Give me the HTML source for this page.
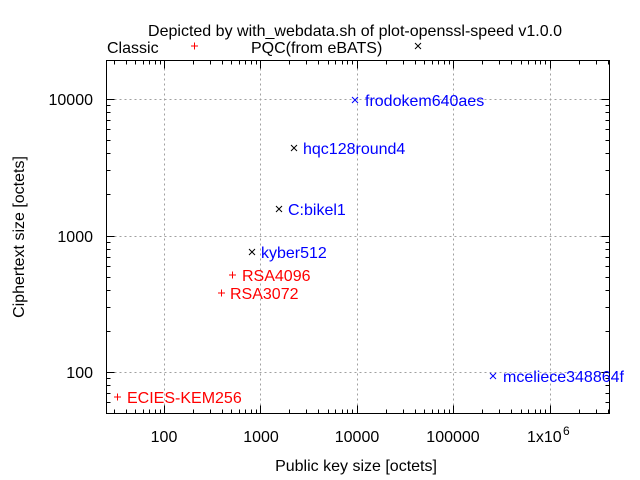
<!DOCTYPE html>
<html><head><meta charset="utf-8"><style>
html,body{margin:0;padding:0;background:#fff;}
svg{display:block;font-family:"Liberation Sans",sans-serif;}
</style></head><body>
<svg id="s" width="640" height="480" viewBox="0 0 640 480" xmlns="http://www.w3.org/2000/svg">
<rect width="640" height="480" fill="#fff"/>
<g id="grid" stroke="#a0a0a0" stroke-width="1" stroke-dasharray="2,3"></g>
<g id="ticks" stroke="#000" stroke-width="1"></g>
<rect x="106.5" y="60.5" width="503" height="353" fill="none" stroke="#000" stroke-width="1"/>
<g font-size="16" fill="#000">
<text x="355" y="36" text-anchor="middle" textLength="414" lengthAdjust="spacingAndGlyphs">Depicted by with_webdata.sh of plot-openssl-speed v1.0.0</text>
<text x="107" y="53">Classic</text>
<text x="251" y="53">PQC(from eBATS)</text>
<text x="93" y="105" text-anchor="end">10000</text>
<text x="93" y="242" text-anchor="end">1000</text>
<text x="93" y="378" text-anchor="end">100</text>
<text x="164" y="442" text-anchor="middle">100</text>
<text x="261" y="442" text-anchor="middle">1000</text>
<text x="357" y="442" text-anchor="middle">10000</text>
<text x="453" y="442" text-anchor="middle">100000</text>
<text x="527" y="442">1x10</text><text x="563" y="435" font-size="12">6</text>
<text x="356" y="471" text-anchor="middle">Public key size [octets]</text>
<text transform="translate(24,237) rotate(-90)" text-anchor="middle">Ciphertext size [octets]</text>
</g>
<g stroke="#f00" stroke-width="1">
<path d="M191,46h7M194.5,42.5v7"/>
<path d="M114,397h7M117.5,393.5v7"/>
<path d="M218,293h7M221.5,289.5v7"/>
<path d="M229,275h7M232.5,271.5v7"/>
</g>
<g stroke="#000" stroke-width="1">
<path d="M415,43l6,6M421,43l-6,6"/>
<path d="M249,249l6,6M255,249l-6,6"/>
<path d="M276,206l6,6M282,206l-6,6"/>
<path d="M291,145l6,6M297,145l-6,6"/>
</g>
<g stroke="#00f" stroke-width="1">
<path d="M352,97l6,6M358,97l-6,6"/>
<path d="M490,373l6,6M496,373l-6,6"/>
</g>
<g font-size="16">
<text x="127" y="403" fill="#f00">ECIES-KEM256</text>
<text x="230" y="299" fill="#f00">RSA3072</text>
<text x="242" y="281" fill="#f00">RSA4096</text>
<text x="261" y="258" fill="#00f">kyber512</text>
<text x="288" y="215" fill="#00f">C:bikel1</text>
<text x="303" y="154" fill="#00f">hqc128round4</text>
<text x="365" y="106" fill="#00f">frodokem640aes</text>
<text x="503" y="382" fill="#00f">mceliece348864f</text>
</g>
</svg>
<script>
(function(){
var L=106.5,R=609.5,T=60.5,B=413.5,x0=164,dx=96.4,y0=372,dy=136.5;
var g='',t='';
for(var k=-1;k<=5;k++){
 for(var m=1;m<10;m++){
  var x=x0+(k+Math.log10(m))*dx; x=Math.round(x)+0.5;
  if(x<=L||x>=R)continue;
  var len=(m==1)?8:4;
  t+='M'+x+','+B+'v-'+len+'M'+x+','+T+'v'+len;
  if(m==1) g+='M'+x+','+(T+8)+'V'+(B-8);
 }
}
for(var k=-1;k<=3;k++){
 for(var m=1;m<10;m++){
  var y=y0-(k+Math.log10(m))*dy; y=Math.round(y)+0.5;
  if(y<=T||y>=B)continue;
  var len=(m==1)?8:4;
  t+='M'+L+','+y+'h'+len+'M'+R+','+y+'h-'+len;
  if(m==1) g+='M'+(L+8)+','+y+'H'+(R-8);
 }
}
var ns='http://www.w3.org/2000/svg';
var p1=document.createElementNS(ns,'path');p1.setAttribute('d',g);document.getElementById('grid').appendChild(p1);
var p2=document.createElementNS(ns,'path');p2.setAttribute('d',t);document.getElementById('ticks').appendChild(p2);
})();
</script>
</body></html>
